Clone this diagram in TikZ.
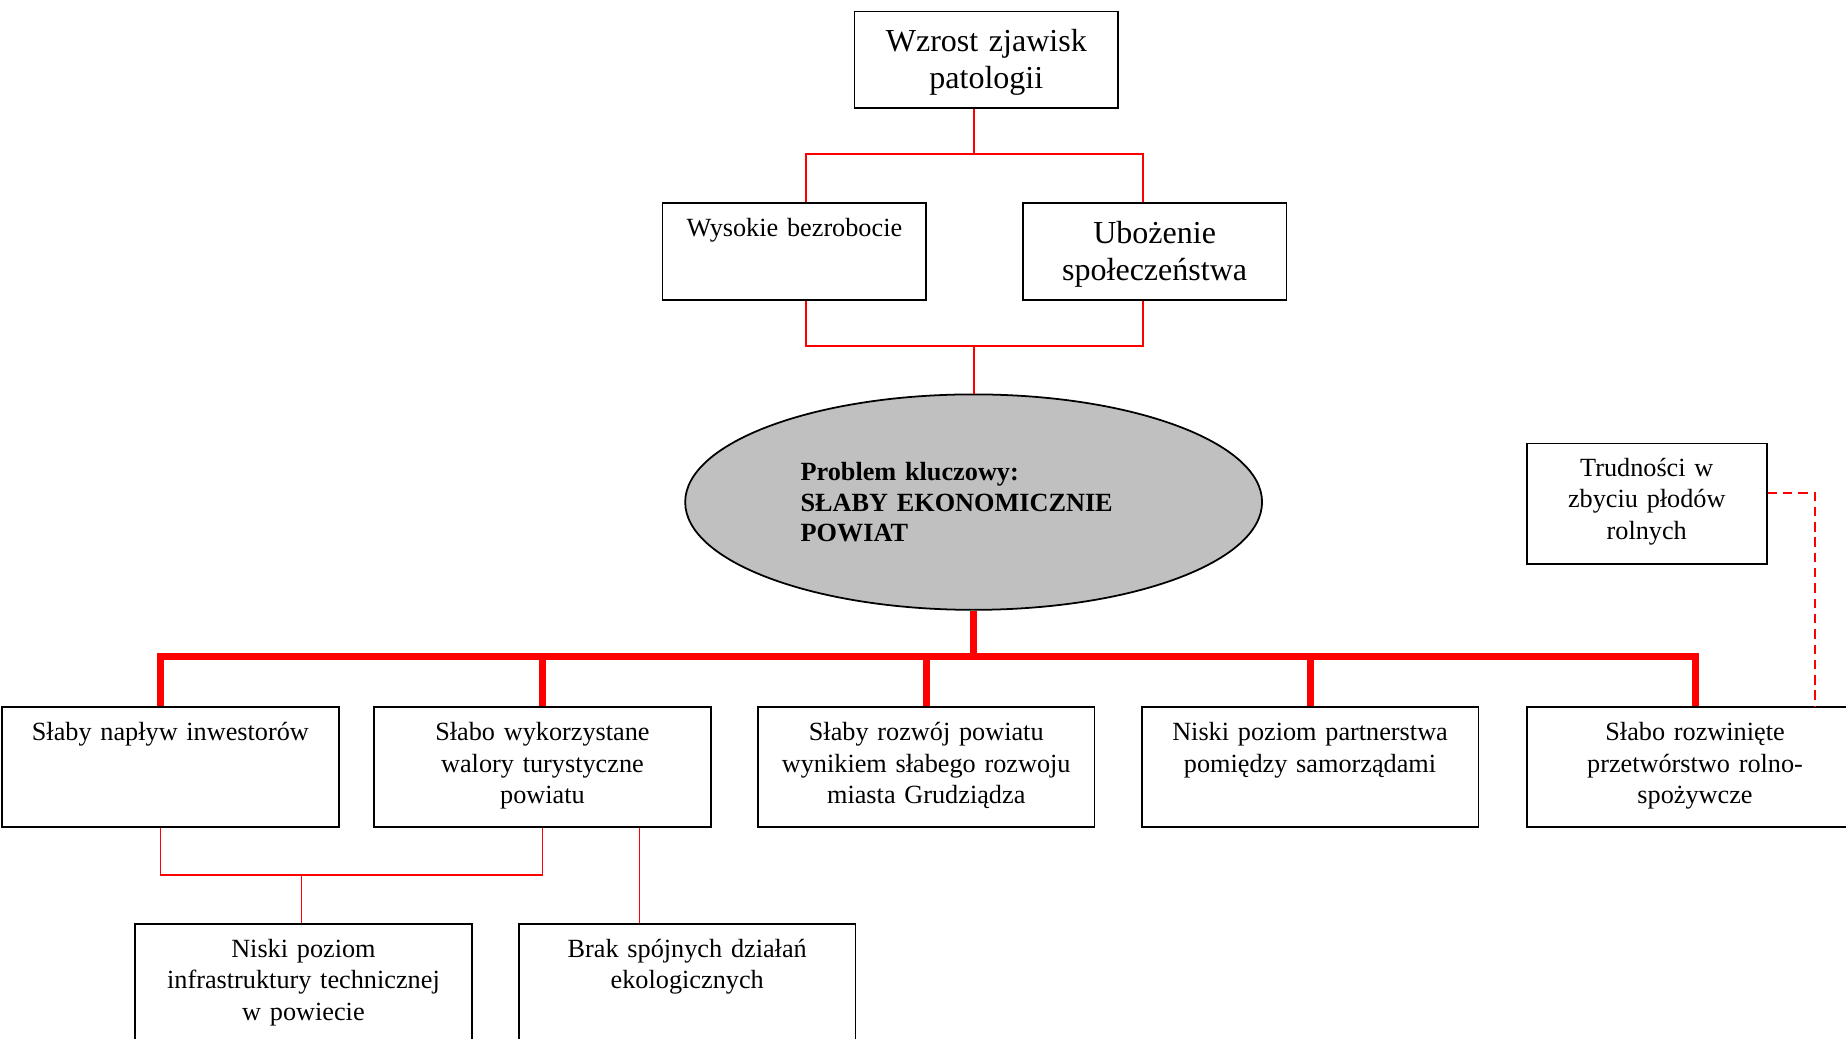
\documentclass[tikz,border=0pt]{standalone}
\usepackage{fontspec}
\setmainfont{Liberation Serif}
\usepackage{tikz}
\usetikzlibrary{shapes.geometric, arrows, positioning}
\definecolor{keygray}{HTML}{C0C0C0}
\newcommand{\smalltext}{\fontsize{11.15}{13.3}\selectfont}
\newcommand{\bigtext}{\fontsize{13.6}{15.7}\selectfont}

\begin{document}
\begin{tikzpicture}[x=0.5pt, y=-0.5pt,
    box/.style={draw, line width=0.75pt, inner xsep=2pt, inner ysep=0pt, align=center, anchor=north west},
    effect/.style={box, text width=108pt, text height=14pt, text depth=27pt, font=\smalltext},
    bigeffect/.style={box, text width=108pt, text height=17pt, text depth=24pt, font=\bigtext},
    cause/.style={box, text width=139pt, text height=14.3pt, text depth=36.7pt, font=\smalltext},
    link/.style={red, line width=0.75pt},
    bus/.style={red, line width=3pt}]
        \useasboundingbox (0,0) rectangle (1568,882);
        \clip (0,0) rectangle (1568,882);

        % Effects
        \node[bigeffect] (pat) at (725,9) {Wzrost zjawisk\\patologii};
        \node[effect] (bez) at (562,172) {Wysokie bezrobocie};
        \node[bigeffect] (ubo) at (868,172) {Ubożenie\\społeczeństwa};

        % Key problem
        \node[ellipse, draw, line width=0.75pt, fill=keygray, inner sep=0pt,
              minimum width=245pt, minimum height=91.5pt,
              text width=147pt, align=left, font={\fontsize{11.15}{13}\selectfont\bfseries}] (key) at (827,426.5)
              {Problem kluczowy:\\SŁABY EKONOMICZNIE\\POWIAT};

        % Causes
        \node[cause] (inw) at (1,600) {Słaby napływ inwestorów};
        \node[cause] (tur) at (317,600) {Słabo wykorzystane\\walory turystyczne\\powiatu};
        \node[cause] (gru) at (643,600) {Słaby rozwój powiatu\\wynikiem słabego rozwoju\\miasta Grudziądza};
        \node[cause] (sam) at (969,600) {Niski poziom partnerstwa\\pomiędzy samorządami};
        \node[cause] (rol) at (1296,600) {Słabo rozwinięte\\przetwórstwo rolno-\\spożywcze};
        \node[box, text width=98pt, text height=14pt, text depth=37pt, font=\smalltext] (zby) at (1296,376)
              {Trudności w\\zbyciu płodów\\rolnych};
        \node[cause] (inf) at (114,784) {Niski poziom\\infrastruktury technicznej\\w powiecie};
        \node[cause] (eko) at (440,784) {Brak spójnych działań\\ekologicznych};

        % Connectors
        \coordinate (up) at (827,131);
        \coordinate (mid) at (827,294);
        \coordinate (fork) at (827,558);
        \coordinate (low) at (256,743);

        \draw[link] (pat.south -| up) -- (up);
        \draw[link] ([xshift=5pt]bez.north) |- (up) -| ([xshift=-5pt]ubo.north);
        \draw[link] ([xshift=5pt]bez.south) |- (mid) -| ([xshift=-5pt]ubo.south);
        \draw[link] (mid) -- (key.north);

        \draw[bus] (key.south) -- (fork);
        \draw[bus] ([xshift=-4.25pt]inw.north) |- (rol.north |- fork) -- (rol.north);
        \foreach \n in {tur, gru, sam}
            \draw[bus] (\n.north) -- (\n.north |- fork);

        \draw[link] ([xshift=-4.25pt]inw.south) |- (low) -| (tur.south);
        \draw[link] (low) -- (low |- inf.north);
        \draw[link] ([xshift=-20.25pt]eko.north) -- ([xshift=-20.25pt]eko.north |- tur.south);
        \draw[link, dash pattern=on 4pt off 2.5pt] ([yshift=4.5pt]zby.east) -| ([xshift=51pt]rol.north);
    \end{tikzpicture}
\end{document}
